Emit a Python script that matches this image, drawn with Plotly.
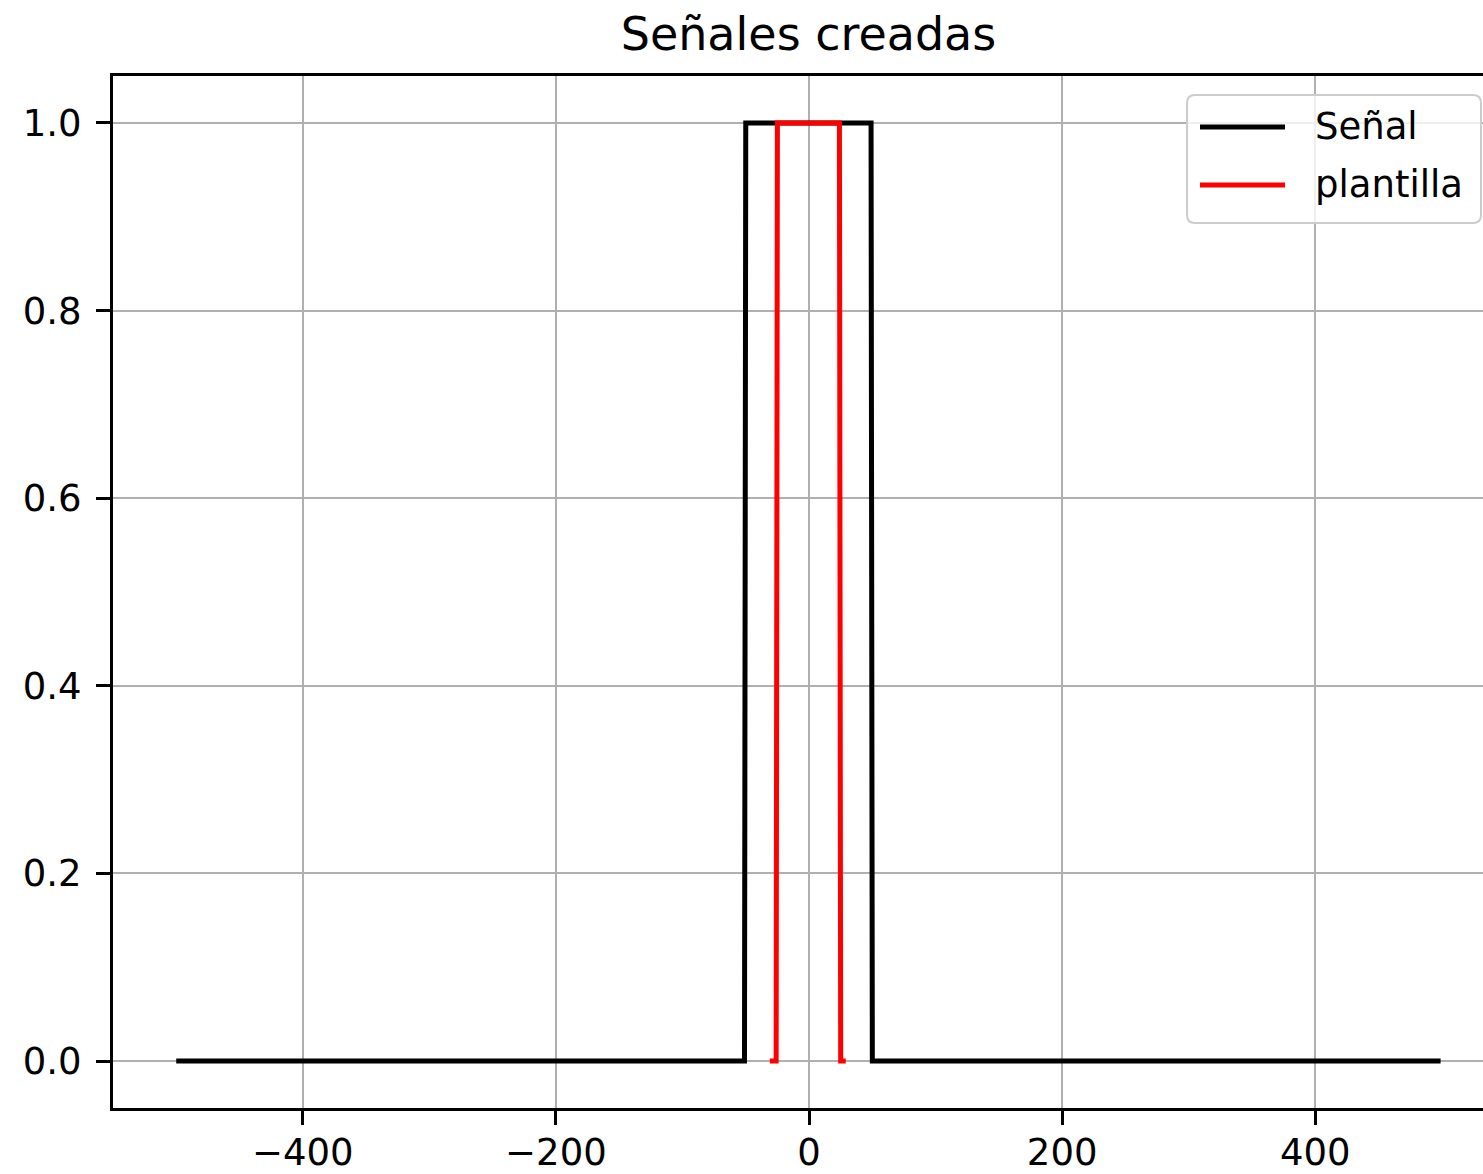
import plotly.graph_objects as go

# ---- data ----
senal_x = [-500, -51, -50, 49, 50, 499]
senal_y = [0, 0, 1, 1, 0, 0]
plantilla_x = [-31, -26, -25, 24, 25, 29]
plantilla_y = [0, 0, 1, 1, 0, 0]

x_tickvals = [-400, -200, 0, 200, 400]
x_ticktext = ["\u2212400", "\u2212200", "0", "200", "400"]
y_tickvals = [0.0, 0.2, 0.4, 0.6, 0.8, 1.0]
y_ticktext = ["0.0", "0.2", "0.4", "0.6", "0.8", "1.0"]

legend_names = ["Señal", "plantilla"]
colors = ["#000000", "#ff0000"]

W, H = 1483, 1174
L, R, T, B = 113, 0, 76, 66
PW = W - L - R
PH = H - T - B
FONT = "DejaVu Sans"
LW = 5


def px(x):
    return (x - L) / PW


def py(y):
    return (H - B - y) / PH


fig = go.Figure()
fig.add_trace(go.Scatter(x=senal_x, y=senal_y, mode="lines", name=legend_names[0],
                         line=dict(color=colors[0], width=LW), showlegend=False))
fig.add_trace(go.Scatter(x=plantilla_x, y=plantilla_y, mode="lines", name=legend_names[1],
                         line=dict(color=colors[1], width=LW), showlegend=False))

# manual legend (matplotlib-like)
bx0, bx1, by0, by1, rr = 1187, 1481, 95, 223, 8
path = (
    f"M {px(bx0 + rr)} {py(by0)} L {px(bx1 - rr)} {py(by0)} "
    f"Q {px(bx1)} {py(by0)} {px(bx1)} {py(by0 + rr)} "
    f"L {px(bx1)} {py(by1 - rr)} Q {px(bx1)} {py(by1)} {px(bx1 - rr)} {py(by1)} "
    f"L {px(bx0 + rr)} {py(by1)} Q {px(bx0)} {py(by1)} {px(bx0)} {py(by1 - rr)} "
    f"L {px(bx0)} {py(by0 + rr)} Q {px(bx0)} {py(by0)} {px(bx0 + rr)} {py(by0)} Z"
)
fig.add_shape(type="path", path=path, xref="paper", yref="paper",
              fillcolor="rgba(255,255,255,0.8)", line=dict(color="#cccccc", width=2),
              layer="above")
rows_y = [127, 185]
for name, col, ry in zip(legend_names, colors, rows_y):
    fig.add_shape(type="line", xref="paper", yref="paper",
                  x0=px(1200), x1=px(1285), y0=py(ry), y1=py(ry),
                  line=dict(color=col, width=LW), layer="above")
    fig.add_annotation(x=px(1313), y=py(ry), xref="paper", yref="paper",
                       text=name, showarrow=False, xanchor="left", yanchor="middle",
                       font=dict(family=FONT, size=37, color="#000000"))

axis_common = dict(
    showline=True, linecolor="#000000", linewidth=3,
    ticks="outside", ticklen=14, tickwidth=2.5, tickcolor="#000000",
    showgrid=True, gridcolor="#b0b0b0", gridwidth=2,
    zeroline=False, automargin=False,
    tickfont=dict(family=FONT, size=37, color="#000000"),
)

fig.update_xaxes(range=[-549.95, 532.5], tickmode="array", tickvals=x_tickvals,
                 ticktext=x_ticktext, mirror=True, ticklabelstandoff=-4, **axis_common)
fig.update_yaxes(range=[-0.05, 1.05], tickmode="array", tickvals=y_tickvals,
                 ticktext=y_ticktext, ticklabelstandoff=7, **axis_common)

fig.update_layout(
    width=W, height=H,
    margin=dict(l=L, r=R, t=T, b=B, pad=0),
    paper_bgcolor="#ffffff", plot_bgcolor="#ffffff",
    title=dict(text="Señales creadas", x=808.5 / W, xanchor="center",
               y=1 - 34 / H, yanchor="middle", yref="container",
               font=dict(family=FONT, size=46, color="#000000")),
    showlegend=False,
)

fig.write_html("out.html")
